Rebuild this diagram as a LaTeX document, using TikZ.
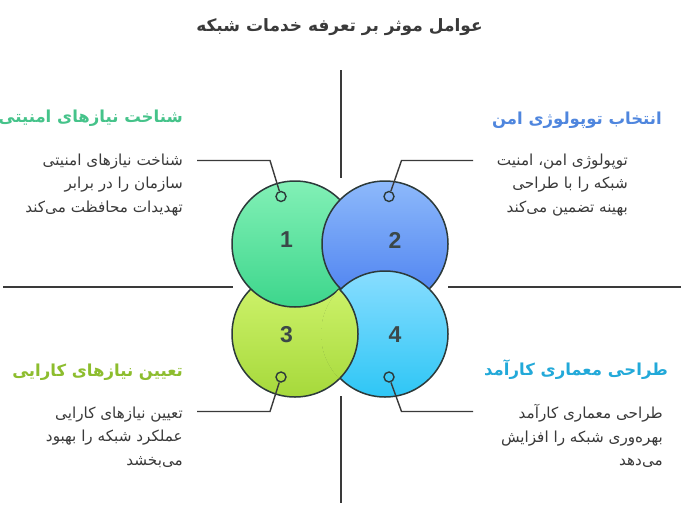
\documentclass[tikz,border=0pt]{standalone}
\usepackage{fontspec}
\setmainfont{Liberation Sans}
\newfontfamily\ar[Script=Arabic]{DejaVu Sans}
\TeXXeTstate=1
\definecolor{ink}{HTML}{3A3A3A}
\definecolor{rim}{HTML}{2C3A3A}
\definecolor{numc}{HTML}{3B4848}
\definecolor{gA}{HTML}{82F0B6}\definecolor{gB}{HTML}{3DD68C}
\definecolor{bA}{HTML}{8DB9FB}\definecolor{bB}{HTML}{4A7FEF}
\definecolor{yA}{HTML}{D2F570}\definecolor{yB}{HTML}{A6D93B}
\definecolor{cA}{HTML}{88DDFF}\definecolor{cB}{HTML}{2EC6F5}
\definecolor{hG}{HTML}{45C38A}
\definecolor{hB}{HTML}{4F86DE}
\definecolor{hY}{HTML}{8DBD2E}
\definecolor{hC}{HTML}{22A9D9}
\tikzset{
  axis/.style={draw=ink, line width=1.5pt},
  link/.style={draw=ink, line width=1.4pt},
  disc/.style={circle, draw=rim, line width=1.5pt, minimum size=126pt, inner sep=0pt},
  marker/.style={circle, draw=rim, line width=1.4pt, minimum size=10pt, inner sep=0pt},
  numlabel/.style={font=\fontsize{23}{26}\selectfont\bfseries, text=numc},
  heading/.style={font=\ar\fontsize{16.5}{19}\selectfont\bfseries, inner sep=0pt},
  body/.style={font=\ar\fontsize{15.2}{23.5}\selectfont, text=ink, align=right, inner sep=0pt},
}
\begin{document}
\begin{tikzpicture}[x=1pt,y=-1pt]
\useasboundingbox (0,0) rectangle (684,511);
\fill[white] (0,0) rectangle (684,511);
% title
\node[font=\ar\fontsize{17}{20}\selectfont\bfseries, text=ink] (title) at (339.5,27) {\beginR عوامل موثر بر تعرفه خدمات شبکه\endR};
% axes
\coordinate (vt1) at (341,70); \coordinate (vt2) at (341,178);
\coordinate (vb1) at (341,396); \coordinate (vb2) at (341,503);
\coordinate (hl1) at (3,287); \coordinate (hl2) at (233,287);
\coordinate (hr1) at (448,287); \coordinate (hr2) at (681,287);
\draw[axis] (vt1) -- (vt2);
\draw[axis] (vb1) -- (vb2);
\draw[axis] (hl1) -- (hl2);
\draw[axis] (hr1) -- (hr2);
% circles (cyclic overlap: 1 over 3, 2 over 1, 4 over 2, 3 over 4)
\node[disc, top color=yA, bottom color=yB] (c3) at (295,334) {};
\node[disc, top color=gA, bottom color=gB] (c1) at (295,244) {};
\node[disc, top color=bA, bottom color=bB] (c2) at (385,244) {};
\node[disc, top color=cA, bottom color=cB] (c4) at (385,334) {};
\begin{scope}
  \clip (c4.center) circle (64);
  \node[disc, top color=yA, bottom color=yB] (c3b) at (295,334) {};
\end{scope}
% numbers
\node[numlabel] (n1) at (286.5,240) {1};
\node[numlabel] (n2) at (395,240) {2};
\node[numlabel] (n3) at (286.5,335) {3};
\node[numlabel] (n4) at (395,335) {4};
% markers
\node[marker] (m1) at (281,196.5) {};
\node[marker] (m2) at (389,196.5) {};
\node[marker] (m3) at (281,377) {};
\node[marker] (m4) at (389,377) {};
% connectors
\coordinate (k1) at (270,160.5); \coordinate (e1) at (197,160.5);
\coordinate (k2) at (401.5,160.5); \coordinate (e2) at (473,160.5);
\coordinate (k3) at (270,411.5); \coordinate (e3) at (197,411.5);
\coordinate (k4) at (401.5,411.5); \coordinate (e4) at (473,411.5);
\draw[link] (m1) -- (k1) -- (e1);
\draw[link] (m2) -- (k2) -- (e2);
\draw[link] (m3) -- (k3) -- (e3);
\draw[link] (m4) -- (k4) -- (e4);
% headings
\node[heading, text=hG, anchor=east] (h1) at (183,118) {\beginR شناخت نیازهای امنیتی\endR};
\node[heading, text=hB, anchor=east] (h2) at (662,120) {\beginR انتخاب توپولوژی امن\endR};
\node[heading, text=hY, anchor=east] (h3) at (183,372) {\beginR تعیین نیازهای کارایی\endR};
\node[heading, text=hC, anchor=east] (h4) at (668,370) {\beginR طراحی معماری کارآمد\endR};
% bodies
\node[body, anchor=east] (t1) at (183,185) {\beginR شناخت نیازهای امنیتی\endR\\ \beginR سازمان را در برابر\endR\\ \beginR تهدیدات محافظت می‌کند\endR};
\node[body, anchor=east] (t2) at (628,185) {\beginR توپولوژی امن، امنیت\endR\\ \beginR شبکه را با طراحی\endR\\ \beginR بهینه تضمین می‌کند\endR};
\node[body, anchor=east] (t3) at (183,437) {\beginR تعیین نیازهای کارایی\endR\\ \beginR عملکرد شبکه را بهبود\endR\\ \beginR می‌بخشد\endR};
\node[body, anchor=east] (t4) at (663,436) {\beginR طراحی معماری کارآمد\endR\\ \beginR بهره‌وری شبکه را افزایش\endR\\ \beginR می‌دهد\endR};
\end{tikzpicture}
\end{document}
